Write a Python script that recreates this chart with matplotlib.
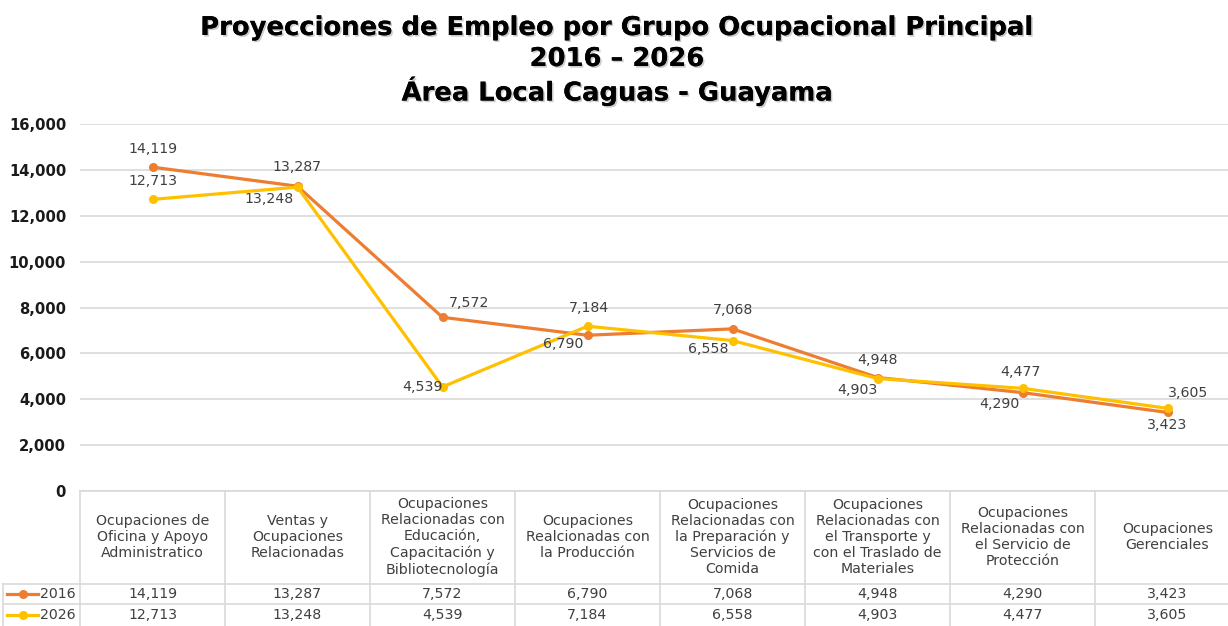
import matplotlib
matplotlib.use('Agg')
import matplotlib.pyplot as plt
import matplotlib.patheffects as pe
from matplotlib.transforms import blended_transform_factory
from matplotlib.lines import Line2D

# --- data ---
categorias = [
    'Ocupaciones de\nOficina y Apoyo\nAdministratico',
    'Ventas y\nOcupaciones\nRelacionadas',
    'Ocupaciones\nRelacionadas con\nEducación,\nCapacitación y\nBibliotecnología',
    'Ocupaciones\nRealcionadas con\nla Producción',
    'Ocupaciones\nRelacionadas con\nla Preparación y\nServicios de\nComida',
    'Ocupaciones\nRelacionadas con\nel Transporte y\ncon el Traslado de\nMateriales',
    'Ocupaciones\nRelacionadas con\nel Servicio de\nProtección',
    'Ocupaciones\nGerenciales',
]
empleo_2016 = [14119, 13287, 7572, 6790, 7068, 4948, 4290, 3423]
empleo_2026 = [12713, 13248, 4539, 7184, 6558, 4903, 4477, 3605]
yticks = [0, 2000, 4000, 6000, 8000, 10000, 12000, 14000, 16000]

# posicion de etiquetas (pixeles respecto al punto)
off_2016 = [(0, 18), (0, 19), (27, 14), (-24, -9), (0, 19), (0, 18), (-23, -11), (0, -13)]
off_2026 = [(0, 18), (-29, -12), (-20, 0), (1, 18), (-24, -8), (-20, -11), (-2, 16), (21, 15)]

c16 = '#ED7D31'
c26 = '#FFC000'
txt = '#404040'
grid = '#d9d9d9'

W, H = 1228, 626
fig = plt.figure(figsize=(W / 100, H / 100), dpi=100)
ax = fig.add_axes([80 / W, (H - 491) / H, 1160 / W, 367 / H])

x = list(range(len(categorias)))
ax.plot(x, empleo_2016, color=c16, lw=2.3, marker='o', ms=5.5, zorder=3)
ax.plot(x, empleo_2026, color=c26, lw=2.3, marker='o', ms=5.5, zorder=4)

for i, v in enumerate(empleo_2016):
    ax.annotate(f'{v:,}', (i, v), xytext=off_2016[i], textcoords='offset pixels',
                ha='center', va='center', fontsize=10.2, color=txt, zorder=5)
for i, v in enumerate(empleo_2026):
    ax.annotate(f'{v:,}', (i, v), xytext=off_2026[i], textcoords='offset pixels',
                ha='center', va='center', fontsize=10.2, color=txt, zorder=5)

ax.set_xlim(-0.5, len(categorias) - 0.5)
ax.set_ylim(0, 16000)
ax.set_yticks(yticks)
ax.set_yticklabels([f'{t:,}' for t in yticks], fontsize=10.6, fontweight='bold', color='#1a1a1a')
ax.tick_params(axis='y', length=0, pad=10)
ax.set_xticks([])
ax.grid(axis='y', color=grid, lw=1.2)
ax.set_axisbelow(True)
for s in ax.spines.values():
    s.set_visible(False)

# --- tabla de datos ---
def fy(ypix):
    return 1 - ypix / H

tr = blended_transform_factory(ax.transData, fig.transFigure)
for k in range(len(categorias) + 1):
    ax.add_line(Line2D([k - 0.5, k - 0.5], [fy(491), fy(H + 5)], transform=tr,
                       color=grid, lw=1.2, clip_on=False))
ax.add_line(Line2D([-0.5, len(categorias) - 0.5], [fy(491), fy(491)], transform=tr,
                   color=grid, lw=1.2, clip_on=False))
for yp in [584, 604]:
    fig.add_artist(Line2D([3 / W, 1], [fy(yp), fy(yp)], color=grid, lw=1.2))
fig.add_artist(Line2D([3 / W, 3 / W], [fy(584), 0], color=grid, lw=1.2))

for i, cat in enumerate(categorias):
    ax.text(i, fy(537), cat, transform=tr, ha='center', va='center', fontsize=10.2,
            color=txt, linespacing=1.18, clip_on=False)
    ax.text(i, fy(594), f'{empleo_2016[i]:,}', transform=tr, ha='center', va='center',
            fontsize=10.2, color=txt, clip_on=False)
    ax.text(i, fy(615), f'{empleo_2026[i]:,}', transform=tr, ha='center', va='center',
            fontsize=10.2, color=txt, clip_on=False)

for yp, col, lab in [(594, c16, '2016'), (615, c26, '2026')]:
    fig.add_artist(Line2D([7 / W, 38 / W], [fy(yp), fy(yp)], color=col, lw=2.3))
    fig.add_artist(Line2D([22.5 / W], [fy(yp)], color=col, marker='o', ms=5.5))
    fig.text(40 / W, fy(yp), lab, ha='left', va='center', fontsize=10.2, color=txt)

# --- titulo ---
sombra = [pe.withSimplePatchShadow(offset=(1.2, -1.2), shadow_rgbFace='#999999', alpha=0.5),
          pe.Normal()]
for texto, yp in [('Proyecciones de Empleo por Grupo Ocupacional Principal', 28),
                  ('2016 – 2026', 59),
                  ('Área Local Caguas - Guayama', 91)]:
    fig.text(617 / W, fy(yp), texto, ha='center', va='center', fontsize=18.6,
             fontweight='bold', color='black', path_effects=sombra)

fig.savefig('out.png', dpi=100)
